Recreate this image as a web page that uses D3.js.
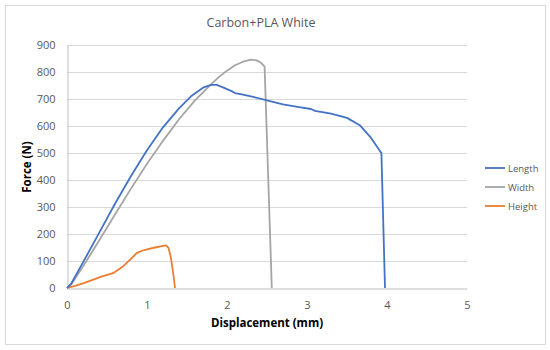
<!DOCTYPE html>
<html>
<head>
<meta charset="utf-8">
<script src="https://cdn.jsdelivr.net/npm/d3@7"></script>
<style>
  body { margin: 0; background: #fff; }
  svg { display: block; font-family: 'Open Sans', sans-serif; }
</style>
</head>
<body>
<svg id="chart"></svg>
<script>
const xTicks = [0, 1, 2, 3, 4, 5];
const yTicks = [0, 100, 200, 300, 400, 500, 600, 700, 800, 900];

// Length
const lengthX = [0, 0.05, 0.2, 0.4, 0.6, 0.8, 1.0, 1.2, 1.4, 1.55, 1.7, 1.8, 1.87, 1.95, 2.05, 2.1, 2.2, 2.3, 2.5, 2.7, 2.9, 3.05, 3.1, 3.3, 3.5, 3.66, 3.79, 3.91, 3.93, 3.975];
const lengthY = [0, 15, 95, 203, 312, 415, 510, 595, 665, 710, 742, 752, 752, 743, 730, 722, 716, 710, 695, 680, 670, 663, 656, 646, 630, 603, 560, 508, 500, 0];

// Width
const widthX = [0, 0.05, 0.2, 0.4, 0.6, 0.8, 1.0, 1.2, 1.4, 1.6, 1.8, 1.9, 2.0, 2.1, 2.2, 2.3, 2.37, 2.43, 2.47, 2.56];
const widthY = [0, 12, 80, 175, 272, 368, 460, 545, 625, 695, 754, 782, 805, 825, 838, 846, 843, 833, 820, 0];

// Height
const heightX = [0, 0.1, 0.2, 0.33, 0.43, 0.575, 0.7, 0.8, 0.87, 0.93, 1.0, 1.1, 1.2, 1.24, 1.27, 1.3, 1.33, 1.35];
const heightY = [0, 8, 17, 31, 42, 55, 80, 108, 129, 137, 143, 150, 156, 158, 148, 110, 50, 0];

const seriesNames = ['Length', 'Width', 'Height'];
const seriesColors = ['#4472C4', '#A5A5A5', '#ED7D31'];

const w = 550;
const h = 350;
const margin = { left: 67, right: 83, top: 45, bottom: 62 };

const svg = d3.select('#chart')
    .attr('width', w)
    .attr('height', h);

svg.append('rect')
    .attr('x', 5.5)
    .attr('y', 5.5)
    .attr('width', 540)
    .attr('height', 339)
    .attr('fill', '#fff')
    .attr('stroke', '#d9d9d9');

const xScale = d3.scaleLinear()
    .domain([0, 5])
    .range([margin.left, w - margin.right]);

const yScale = d3.scaleLinear()
    .domain([0, 900])
    .range([h - margin.bottom, margin.top]);

// gridlines
svg.append('g')
    .selectAll('line')
    .data(yTicks.filter(d => d > 0))
    .enter()
    .append('line')
    .attr('x1', xScale(0))
    .attr('x2', xScale(5))
    .attr('y1', d => Math.round(yScale(d)) + 0.5)
    .attr('y2', d => Math.round(yScale(d)) + 0.5)
    .attr('stroke', '#d9d9d9');

const xAxis = d3.axisBottom(xScale).tickValues(xTicks).tickFormat(d3.format('d')).tickSize(0).tickPadding(13);
const yAxis = d3.axisLeft(yScale).tickValues(yTicks).tickFormat(d3.format('d')).tickSize(0).tickPadding(12);

const gx = svg.append('g')
    .attr('transform', 'translate(0,' + (Math.round(yScale(0)) + 0.5) + ')')
    .call(xAxis);
gx.select('.domain').attr('stroke', '#bfbfbf');

const gy = svg.append('g')
    .attr('transform', 'translate(' + (Math.round(xScale(0)) + 0.5) + ',0)')
    .call(yAxis);
gy.select('.domain').attr('stroke', '#bfbfbf');

svg.selectAll('.tick text')
    .attr('fill', '#595959')
    .style('font-size', '11px')
    .style('font-family', "'Open Sans', sans-serif");

const line = d3.line()
    .x(d => xScale(d[0]))
    .y(d => yScale(d[1]));

const series = [
  d3.zip(lengthX, lengthY),
  d3.zip(widthX, widthY),
  d3.zip(heightX, heightY)
];

// draw width first so length sits on top like the original
[1, 2, 0].forEach(i => {
  svg.append('path')
      .datum(series[i])
      .attr('d', line)
      .attr('fill', 'none')
      .attr('stroke', seriesColors[i])
      .attr('stroke-width', 1.8)
      .attr('stroke-linejoin', 'round');
});

svg.append('text')
    .attr('x', 261)
    .attr('y', 27)
    .attr('text-anchor', 'middle')
    .attr('fill', '#595959')
    .style('font-size', '12.5px')
    .text('Carbon+PLA White');

svg.append('text')
    .attr('x', 267)
    .attr('y', 327)
    .attr('text-anchor', 'middle')
    .attr('fill', '#000')
    .style('font-size', '11.5px')
    .style('font-weight', 'bold')
    .text('Displacement (mm)');

svg.append('text')
    .attr('text-anchor', 'middle')
    .attr('transform', 'translate(31,167) rotate(-90)')
    .attr('fill', '#000')
    .style('font-size', '11.5px')
    .style('font-weight', 'bold')
    .text('Force (N)');

// legend
const legend = svg.append('g');
seriesNames.forEach((name, i) => {
  const ly = 168 + i * 19;
  legend.append('line')
      .attr('x1', 485)
      .attr('x2', 505)
      .attr('y1', ly)
      .attr('y2', ly)
      .attr('stroke', seriesColors[i])
      .attr('stroke-width', 1.8);
  legend.append('text')
      .attr('x', 508)
      .attr('y', ly + 3.5)
      .attr('fill', '#595959')
      .style('font-size', '9.5px')
      .text(name);
});
</script>
</body>
</html>
